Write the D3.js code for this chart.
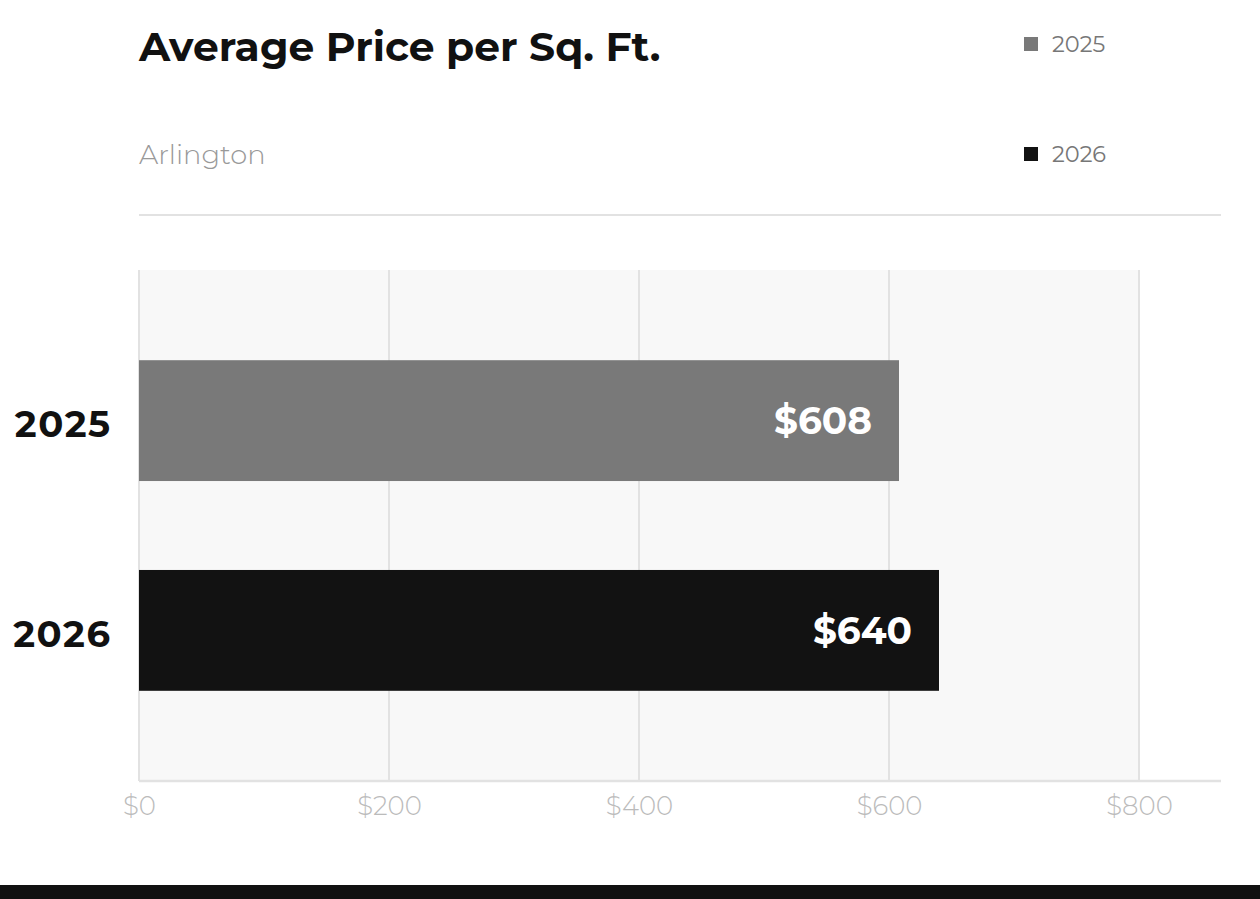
<!DOCTYPE html>
<html>
<head>
<meta charset="utf-8">
<script src="https://cdn.jsdelivr.net/npm/d3@7"></script>
<style>
  body { margin: 0; background: #fff; }
  svg { display: block; font-family: Montserrat, "Open Sans", sans-serif; }
</style>
</head>
<body>
<div id="chart"></div>
<script>
// data
var years = ["2025", "2026"];
var prices = [608, 640];
var xTicks = [0, 200, 400, 600, 800];
var chartTitle = "Average Price per Sq. Ft.";
var chartSubtitle = "Arlington";

var barColors = { "2025": "#797979", "2026": "#121212" };

var w = 1260, h = 899;
var margin = { top: 270, left: 139 };
var plotW = 1000, plotH = 511;

var svg = d3.select("#chart").append("svg")
    .attr("width", w)
    .attr("height", h);

// --- Header ---
svg.append("text")
    .attr("x", 139)
    .attr("y", 61)
    .style("font-size", "40.8px")
    .style("font-weight", 700)
    .style("fill", "#111")
    .text(chartTitle);

svg.append("text")
    .attr("x", 139)
    .attr("y", 164)
    .style("font-size", "27.3px")
    .style("font-weight", 300)
    .style("fill", "#999")
    .text(chartSubtitle);

// legend
var legend = svg.append("g")
    .selectAll("g")
    .data(years)
    .enter().append("g")
    .attr("transform", (d, i) => `translate(1024, ${44 + i * 110})`);

legend.append("rect")
    .attr("y", -7)
    .attr("width", 14)
    .attr("height", 14)
    .attr("fill", d => barColors[d]);

legend.append("text")
    .attr("x", 28)
    .attr("dy", "0.35em")
    .style("font-size", "22.5px")
    .style("fill", "#777")
    .text(d => d);

svg.append("line")
    .attr("x1", 139).attr("x2", 1221)
    .attr("y1", 215).attr("y2", 215)
    .attr("stroke", "#e2e2e2")
    .attr("stroke-width", 2);

// --- Scales ---
var xScale = d3.scaleLinear()
    .domain([0, 800])
    .range([0, plotW]);

var yScale = d3.scaleBand()
    .domain(years)
    .range([0, plotH])
    .paddingInner(0.424)
    .paddingOuter(0.43);

var g = svg.append("g")
    .attr("transform", `translate(${margin.left},${margin.top})`);

g.append("rect")
    .attr("width", plotW)
    .attr("height", plotH)
    .attr("fill", "#f8f8f8");

// grid
g.append("g")
    .selectAll("line")
    .data(xTicks)
    .enter().append("line")
    .attr("x1", d => xScale(d)).attr("x2", d => xScale(d))
    .attr("y1", 0).attr("y2", plotH)
    .attr("stroke", "#e2e2e2")
    .attr("stroke-width", 2);

// x axis
var xAxis = g.append("g")
    .attr("transform", `translate(0,${plotH})`)
    .call(d3.axisBottom(xScale).tickValues(xTicks).tickSize(0).tickPadding(16).tickFormat(d => "$" + d));

xAxis.select(".domain").remove();
xAxis.selectAll("text")
    .style("font-size", "26px")
    .style("font-weight", 300)
    .style("fill", "#bbb")
    .style("font-family", "Montserrat, 'Open Sans', sans-serif");

g.append("line")
    .attr("x1", 0).attr("x2", 1082)
    .attr("y1", plotH).attr("y2", plotH)
    .attr("stroke", "#e2e2e2")
    .attr("stroke-width", 2.5);

// y axis
var yAxis = g.append("g")
    .call(d3.axisLeft(yScale).tickSize(0).tickPadding(27.5));

yAxis.select(".domain").remove();
yAxis.selectAll("text")
    .attr("dy", "0.44em")
    .style("font-size", "37px")
    .style("font-weight", 700)
    .style("letter-spacing", "1.5px")
    .style("fill", "#111")
    .style("font-family", "Montserrat, 'Open Sans', sans-serif");

// --- Bars ---
var rows = years.map((y, i) => ({ year: y, price: prices[i] }));

g.append("g")
    .selectAll("rect")
    .data(rows)
    .enter().append("rect")
    .attr("x", 0)
    .attr("y", d => yScale(d.year))
    .attr("width", d => xScale(d.price))
    .attr("height", yScale.bandwidth())
    .attr("fill", d => barColors[d.year]);

g.append("g")
    .selectAll("text")
    .data(rows)
    .enter().append("text")
    .attr("x", d => xScale(d.price) - 27)
    .attr("y", d => yScale(d.year) + yScale.bandwidth() / 2)
    .attr("dy", "0.36em")
    .attr("text-anchor", "end")
    .style("font-size", "37.5px")
    .style("font-weight", 700)
    .style("fill", "#fff")
    .text(d => "$" + d.price);

// bottom band
svg.append("rect")
    .attr("x", 0)
    .attr("y", 885)
    .attr("width", w)
    .attr("height", 14)
    .attr("fill", "#111");
</script>
</body>
</html>
